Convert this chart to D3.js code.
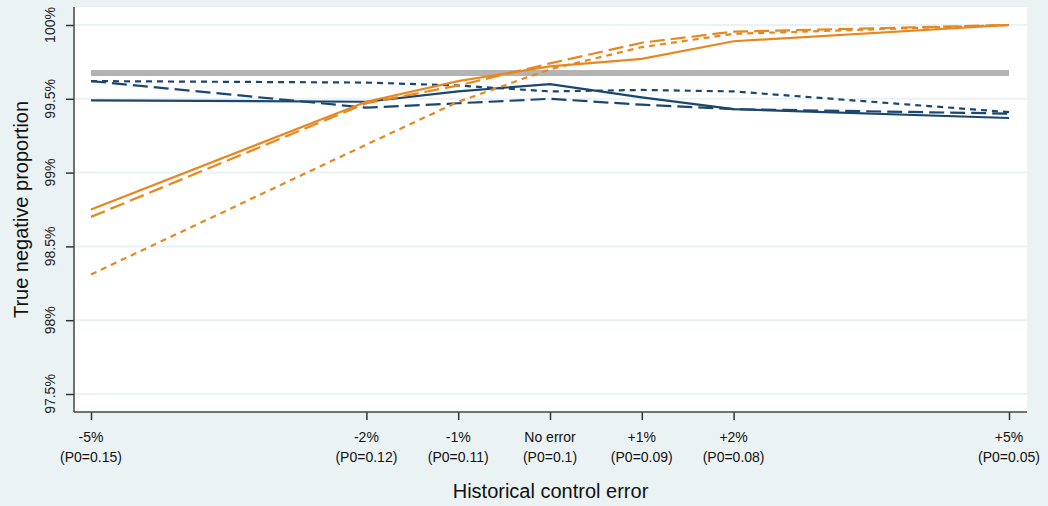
<!DOCTYPE html>
<html>
<head>
<meta charset="utf-8">
<script src="https://cdn.jsdelivr.net/npm/d3@7"></script>
<style>
  body { margin: 0; background: #eaf2f3; }
  svg { display: block; font-family: "Liberation Sans", Arial, sans-serif; }
</style>
</head>
<body>
<div id="chart"></div>
<script>
// x categories: historical control error (%), with P0 labels
const errors = [-5, -2, -1, 0, 1, 2, 5];
const errLabels = ["-5%", "-2%", "-1%", "No error", "+1%", "+2%", "+5%"];
const p0Labels = ["(P0=0.15)", "(P0=0.12)", "(P0=0.11)", "(P0=0.1)", "(P0=0.09)", "(P0=0.08)", "(P0=0.05)"];
const yTicks = [97.5, 98, 98.5, 99, 99.5, 100];
const yTickLabels = ["97.5%", "98%", "98.5%", "99%", "99.5%", "100%"];

// reference level (grey band)
const reference = 99.675;

// true negative proportion (%) per series
const navySolid  = [99.49, 99.48, 99.55, 99.60, 99.51, 99.43, 99.37];
const navyDash   = [99.62, 99.44, 99.47, 99.50, 99.46, 99.43, 99.40];
const navyDot    = [99.62, 99.61, 99.59, 99.55, 99.56, 99.55, 99.41];
const orangeSolid = [98.75, 99.48, 99.62, 99.72, 99.77, 99.89, 100.0];
const orangeDash  = [98.70, 99.47, 99.59, 99.74, 99.88, 99.955, 100.0];
const orangeDot   = [98.31, 99.19, 99.48, 99.70, 99.85, 99.94, 100.0];

const navy = "#1a476f";
const orange = "#e8871e";

const series = [
  { values: navySolid, color: navy, dash: null },
  { values: navyDash, color: navy, dash: "15,6" },
  { values: navyDot, color: navy, dash: "6,5" },
  { values: orangeSolid, color: orange, dash: null },
  { values: orangeDash, color: orange, dash: "15,6" },
  { values: orangeDot, color: orange, dash: "6,5" }
];

const width = 1048, height = 506;
const plot = { left: 74, right: 1027, top: 7, bottom: 412 };

const svg = d3.select("#chart").append("svg")
  .attr("width", width)
  .attr("height", height);

// Scales
const x = d3.scaleLinear().domain([-5, 5]).range([91, 1009]);
const y = d3.scaleLinear().domain([97.5, 100]).range([394, 25]);

// Plot region
svg.append("rect")
  .attr("x", plot.left).attr("y", plot.top)
  .attr("width", plot.right - plot.left).attr("height", plot.bottom - plot.top)
  .attr("fill", "#fff");

// Gridlines
svg.append("g").selectAll("line")
  .data(yTicks)
  .join("line")
  .attr("x1", plot.left).attr("x2", plot.right)
  .attr("y1", d => y(d)).attr("y2", d => y(d))
  .attr("stroke", "#eaf2f3").attr("stroke-width", 2);

// Y axis
const yAxis = svg.append("g")
  .attr("transform", `translate(${plot.left},0)`)
  .call(d3.axisLeft(y).tickValues(yTicks).tickSize(8).tickFormat(""));
yAxis.select(".domain").remove();
yAxis.selectAll(".tick line").attr("stroke", "#333").attr("stroke-width", 1.5);
svg.append("line")
  .attr("x1", plot.left).attr("x2", plot.left)
  .attr("y1", plot.top).attr("y2", plot.bottom)
  .attr("stroke", "#444").attr("stroke-width", 1.5);

svg.append("g").selectAll("text")
  .data(yTicks)
  .join("text")
  .attr("transform", d => `translate(55,${y(d)}) rotate(-90)`)
  .attr("text-anchor", "middle")
  .attr("font-size", "14px")
  .attr("fill", "#222")
  .text((d, i) => yTickLabels[i]);

// X axis
const xAxis = svg.append("g")
  .attr("transform", `translate(0,${plot.bottom})`)
  .call(d3.axisBottom(x).tickValues(errors).tickSize(8).tickFormat(""));
xAxis.select(".domain").remove();
xAxis.selectAll(".tick line").attr("stroke", "#333").attr("stroke-width", 1.5);
svg.append("line")
  .attr("x1", plot.left).attr("x2", plot.right)
  .attr("y1", plot.bottom).attr("y2", plot.bottom)
  .attr("stroke", "#444").attr("stroke-width", 1.5);

const xl = svg.append("g").selectAll("text")
  .data(errors)
  .join("text")
  .attr("text-anchor", "middle")
  .attr("font-size", "14px")
  .attr("fill", "#111");
xl.append("tspan").attr("x", d => x(d)).attr("y", 442).text((d, i) => errLabels[i]);
xl.append("tspan").attr("x", d => x(d)).attr("y", 462).text((d, i) => p0Labels[i]);

// Axis titles
svg.append("text")
  .attr("x", (plot.left + plot.right) / 2)
  .attr("y", 498)
  .attr("text-anchor", "middle")
  .attr("font-size", "20px")
  .attr("fill", "#111")
  .text("Historical control error");

svg.append("text")
  .attr("transform", `translate(28,${(plot.top + plot.bottom) / 2}) rotate(-90)`)
  .attr("text-anchor", "middle")
  .attr("font-size", "20px")
  .attr("fill", "#111")
  .text("True negative proportion");

// Reference line
svg.append("line")
  .attr("x1", x(-5)).attr("x2", x(5))
  .attr("y1", y(reference)).attr("y2", y(reference))
  .attr("stroke", "#b3b3b3").attr("stroke-width", 6);

// Series lines
const line = d3.line()
  .x((d, i) => x(errors[i]))
  .y(d => y(d));

svg.append("g").selectAll("path")
  .data(series)
  .join("path")
  .attr("d", d => line(d.values))
  .attr("fill", "none")
  .attr("stroke", d => d.color)
  .attr("stroke-width", 2.2)
  .attr("stroke-dasharray", d => d.dash);
</script>
</body>
</html>
